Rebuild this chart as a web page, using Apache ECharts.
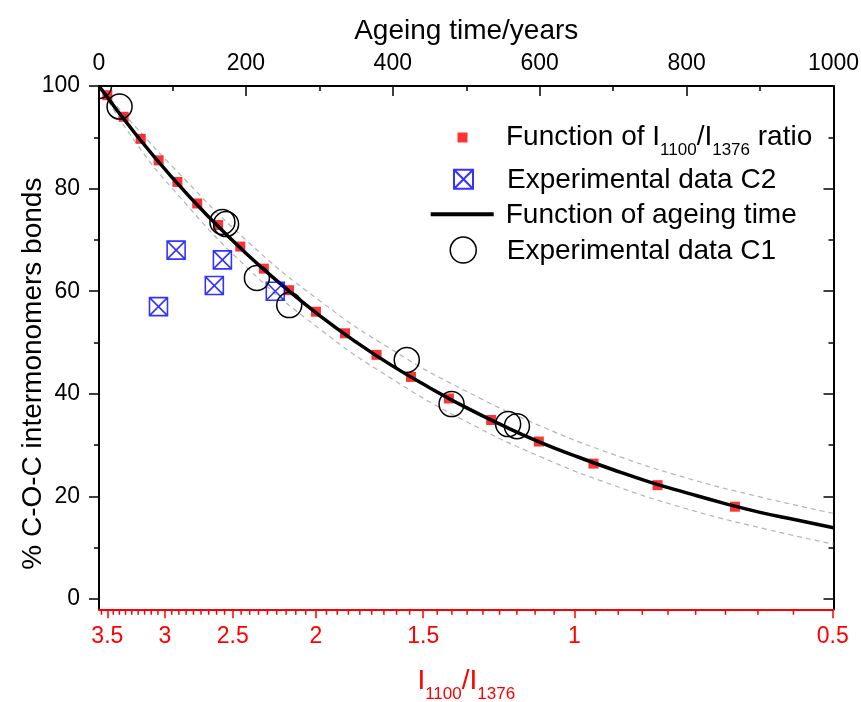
<!DOCTYPE html>
<html>
<head>
<meta charset="utf-8">
<script src="https://cdn.jsdelivr.net/npm/echarts@6/dist/echarts.min.js"></script>
<style>
html,body{margin:0;padding:0;background:#fff;}
#chart{width:861px;height:702px;}
</style>
</head>
<body>
<div id="chart"></div>
<script>
// ---- data ----
const fitYears = [0, 50, 100, 150, 200, 250, 300, 350, 400, 450, 500, 550, 600, 650, 700, 750, 800, 850, 900, 950, 1000];
const fitPct   = [100, 90.6, 82.1, 74.4, 67.4, 61.1, 55.3, 50.1, 45.4, 41.2, 37.3, 33.8, 30.6, 27.8, 25.2, 22.8, 20.7, 18.7, 16.9, 15.4, 13.9];

const bandYears = [0, 50, 100, 200, 300, 400, 500, 600, 700, 800, 900, 1000];
const bandUpper = [100, 92.0, 84.3, 70.0, 58.2, 48.5, 40.5, 33.8, 28.2, 23.6, 19.9, 16.7];
const bandLower = [100, 89.0, 80.0, 64.8, 52.7, 42.8, 34.6, 27.8, 22.2, 17.6, 13.9, 10.7];

const ratioValues = [3.5, 3.35, 3.2, 3.05, 2.9, 2.75, 2.6, 2.45, 2.3, 2.15, 2.0, 1.85, 1.7, 1.55, 1.4, 1.25, 1.1, 0.95, 0.8, 0.65];
const ratioPct    = [98.2, 94.0, 89.7, 85.5, 81.3, 77.1, 72.9, 68.7, 64.4, 60.2, 56.0, 51.8, 47.6, 43.3, 39.1, 34.9, 30.7, 26.4, 22.2, 18.0];

const c1Years = [0, 28, 168, 173, 215, 259, 419, 480, 557, 569];
const c1Pct   = [100, 96.0, 73.5, 73.1, 62.6, 57.3, 46.6, 38.0, 34.1, 33.7];

const c2Years = [81, 105, 157, 168, 240];
const c2Pct   = [57.0, 68.0, 61.1, 66.1, 60.0];

const ratioTickLabels = [3.5, 3, 2.5, 2, 1.5, 1, 0.5];
const pctTickLabels = [0, 20, 40, 60, 80, 100];
const pctMinorTicks = [10, 30, 50, 70, 90];
const timeTickStep = 200;
const ratioMin = 0.499, ratioMax = 3.579;
const pctMin = -2, pctMax = 100;

// minor ticks of the ratio axis: 8 per major interval
let ratioMinorTicks = [];
ratioTickLabels.forEach(function (m) {
  for (let k = 1; k <= 8; k++) ratioMinorTicks.push(Math.round((m + k / 18) * 10000) / 10000);
});
ratioMinorTicks = ratioMinorTicks.filter(v => v >= ratioMin && v <= ratioMax).sort((a, b) => a - b);

const FONT = '"Liberation Sans", Arial, sans-serif';
const zip = (a, b) => a.map((v, i) => [v, b[i]]);

const chart = echarts.init(document.getElementById('chart'), null, {renderer: 'canvas'});

const legendRich = {
  t: {fontSize: 28, lineHeight: 30, fontFamily: FONT, color: '#000', verticalAlign: 'bottom'}
};
const legendRichSub = {
  t: {fontSize: 28, lineHeight: 30, fontFamily: FONT, color: '#000', verticalAlign: 'middle'},
  s: {fontSize: 17, lineHeight: 43, fontFamily: FONT, color: '#000', verticalAlign: 'bottom'}
};

function legendBlock(name, top, left, w, h, fmt, extra) {
  return Object.assign({
    data: [name], top: top, left: left, orient: 'vertical', padding: 0,
    itemWidth: w, itemHeight: h, selectedMode: false,
    formatter: fmt,
    textStyle: {rich: legendRich}
  }, extra || {});
}

const option = {
  animation: false,
  backgroundColor: '#fff',
  grid: {left: 99, top: 86, right: 27.5, bottom: 92.7, containLabel: false, outerBoundsMode: 'none'},
  legend: [
    legendBlock('Function of I1100/I1376 ratio', 123.5, 457.5, 77, 10,
      function () { return '{t|Function of I}{s|1100}{t|/I}{s|1376}{t| ratio}'; },
      {data: [{name: 'Function of I1100/I1376 ratio', icon: 'path://M0,0H10V10H0Z',
               itemStyle: {color: '#ff0000'}}],
       textStyle: {rich: legendRichSub}}),
    legendBlock('Experimental data C2', 166.3, 453, 77, 19,
      function () { return '{t|Experimental data C2}'; }),
    legendBlock('Function of ageing time', 201.3, 430.7, 63, 4,
      function () { return '{t|Function of ageing time}'; },
      {data: [{name: 'Function of ageing time', icon: 'path://M0,0H63V4H0Z', itemStyle: {color: '#000'}}],
       textStyle: {rich: legendRich, padding: [0, 0, 0, 7]}}),
    legendBlock('Experimental data C1', 236.3, 449.5, 77, 26,
      function () { return '{t|Experimental data C1}'; },
      {data: [{name: 'Experimental data C1', icon: 'circle',
               itemStyle: {color: 'rgba(0,0,0,0)', borderColor: '#000', borderWidth: 1.5}}]})
  ],
  xAxis: [
    {
      type: 'value', position: 'top', min: 0, max: 1000, interval: timeTickStep,
      name: 'Ageing time/years', nameLocation: 'middle', nameGap: 40, nameMoveOverlap: false,
      nameTextStyle: {fontSize: 28, lineHeight: 30, fontFamily: FONT, color: '#000'},
      axisLine: {show: true, onZero: false, lineStyle: {color: '#000', width: 2}},
      axisTick: {show: true, inside: true, length: 10, lineStyle: {color: '#000', width: 1.5}},
      minorTick: {show: true, splitNumber: 2, length: 5, lineStyle: {color: '#000', width: 1.5}},
      axisLabel: {fontSize: 23, fontFamily: FONT, color: '#000', margin: 11,
                  formatter: function (v) { return String(v); }},
      splitLine: {show: false}
    },
    {
      type: 'log', position: 'bottom', inverse: true, min: ratioMin, max: ratioMax, logBase: 10,
      name: '{m|I}{s|1100}{m|/I}{s|1376}', nameLocation: 'middle', nameGap: 50.5, nameMoveOverlap: false,
      nameTextStyle: {
        color: '#ff0000',
        rich: {
          m: {fontSize: 28, lineHeight: 30, fontFamily: FONT, color: '#ff0000', verticalAlign: 'middle'},
          s: {fontSize: 17, lineHeight: 43, fontFamily: FONT, color: '#ff0000', verticalAlign: 'bottom'}
        }
      },
      axisLine: {show: true, onZero: false, lineStyle: {color: '#ff0000', width: 2}},
      axisTick: {show: true, customValues: ratioTickLabels, length: 9, lineStyle: {color: '#ff0000', width: 1.5}},
      axisLabel: {show: true, customValues: ratioTickLabels, fontSize: 23, fontFamily: FONT, color: '#ff0000', margin: 16,
                  formatter: function (v) { return String(Math.round(v * 10) / 10); }},
      minorTick: {show: false},
      splitLine: {show: false}
    }
  ],
  yAxis: [
    {
      type: 'value', position: 'left', min: pctMin, max: pctMax,
      name: '% C-O-C intermonomers bonds', nameLocation: 'middle', nameGap: 51, nameMoveOverlap: false,
      nameTextStyle: {fontSize: 28, lineHeight: 30, fontFamily: FONT, color: '#000', padding: [0, 52, 0, 0]},
      axisLine: {show: true, onZero: false, lineStyle: {color: '#000', width: 2}},
      axisTick: {show: true, customValues: pctTickLabels, length: 10, lineStyle: {color: '#000', width: 1.5}},
      axisLabel: {show: true, customValues: pctTickLabels, fontSize: 23, fontFamily: FONT, color: '#000', margin: 19},
      splitLine: {show: false}
    },
    {
      type: 'value', position: 'left', min: pctMin, max: pctMax,
      axisLine: {show: false, onZero: false},
      axisTick: {show: true, customValues: pctMinorTicks, length: 5, lineStyle: {color: '#000', width: 1.5}},
      axisLabel: {show: false},
      splitLine: {show: false}
    },
    {
      type: 'value', position: 'right', min: pctMin, max: pctMax,
      axisLine: {show: true, onZero: false, lineStyle: {color: '#000', width: 2}},
      axisTick: {show: true, inside: true, customValues: pctTickLabels, length: 10, lineStyle: {color: '#000', width: 1.5}},
      axisLabel: {show: false},
      splitLine: {show: false}
    },
    {
      type: 'value', position: 'right', min: pctMin, max: pctMax,
      axisLine: {show: false, onZero: false},
      axisTick: {show: true, inside: true, customValues: pctMinorTicks, length: 5, lineStyle: {color: '#000', width: 1.5}},
      axisLabel: {show: false},
      splitLine: {show: false}
    }
  ],
  series: [
    {
      name: 'upper band', type: 'line', xAxisIndex: 0, yAxisIndex: 0,
      data: zip(bandYears, bandUpper), smooth: true, symbol: 'none', silent: true, z: 1,
      lineStyle: {color: '#b4b4b4', width: 1.2, type: [5, 4]}
    },
    {
      name: 'lower band', type: 'line', xAxisIndex: 0, yAxisIndex: 0,
      data: zip(bandYears, bandLower), smooth: true, symbol: 'none', silent: true, z: 1,
      lineStyle: {color: '#b4b4b4', width: 1.2, type: [5, 4]}
    },
    {
      name: 'Function of I1100/I1376 ratio', type: 'scatter', xAxisIndex: 1, yAxisIndex: 0,
      data: zip(ratioValues, ratioPct), symbol: 'rect', symbolSize: 10, z: 2,
      itemStyle: {color: '#ff0000'}
    },
    {
      name: 'Function of ageing time', type: 'line', xAxisIndex: 0, yAxisIndex: 0,
      data: zip(fitYears, fitPct), smooth: true, symbol: 'none', z: 3,
      itemStyle: {color: '#000'},
      lineStyle: {color: '#000', width: 3.5}
    },
    {
      name: 'Experimental data C2', type: 'scatter', xAxisIndex: 0, yAxisIndex: 0,
      data: zip(c2Years, c2Pct), z: 4,
      symbol: 'path://M1,1H19V19H1ZM1,1L19,19M19,1L1,19', symbolSize: 18,
      itemStyle: {color: 'rgba(0,0,0,0)', borderColor: '#0000ff', borderWidth: 1.6}
    },
    {
      name: 'Experimental data C1', type: 'custom', xAxisIndex: 0, yAxisIndex: 0,
      data: zip(c1Years, c1Pct), clip: true, z: 5,
      encode: {x: 0, y: 1},
      itemStyle: {color: '#000'},
      renderItem: function (params, api) {
        const p = api.coord([api.value(0), api.value(1)]);
        return {
          type: 'circle',
          shape: {cx: p[0], cy: p[1], r: 12.5},
          style: {fill: 'none', stroke: '#000', lineWidth: 1.5}
        };
      }
    },
    {
      // minor ticks of the I1100/I1376 axis, all placed through the log axis scale in one group
      name: 'ratio minor ticks', type: 'custom', xAxisIndex: 1, yAxisIndex: 0,
      data: [[ratioTickLabels[0], pctMin]], clip: false, silent: true, z: 100, zlevel: 1,
      encode: {x: 0, y: 1},
      renderItem: function (params, api) {
        return {
          type: 'group',
          children: ratioMinorTicks.map(function (v) {
            const p = api.coord([v, pctMin]);
            return {
              type: 'line',
              shape: {x1: p[0], y1: p[1], x2: p[0], y2: p[1] + 5.5},
              style: {stroke: '#ff0000', lineWidth: 1.5}
            };
          })
        };
      }
    }
  ]
};

chart.setOption(option);
</script>
</body>
</html>
